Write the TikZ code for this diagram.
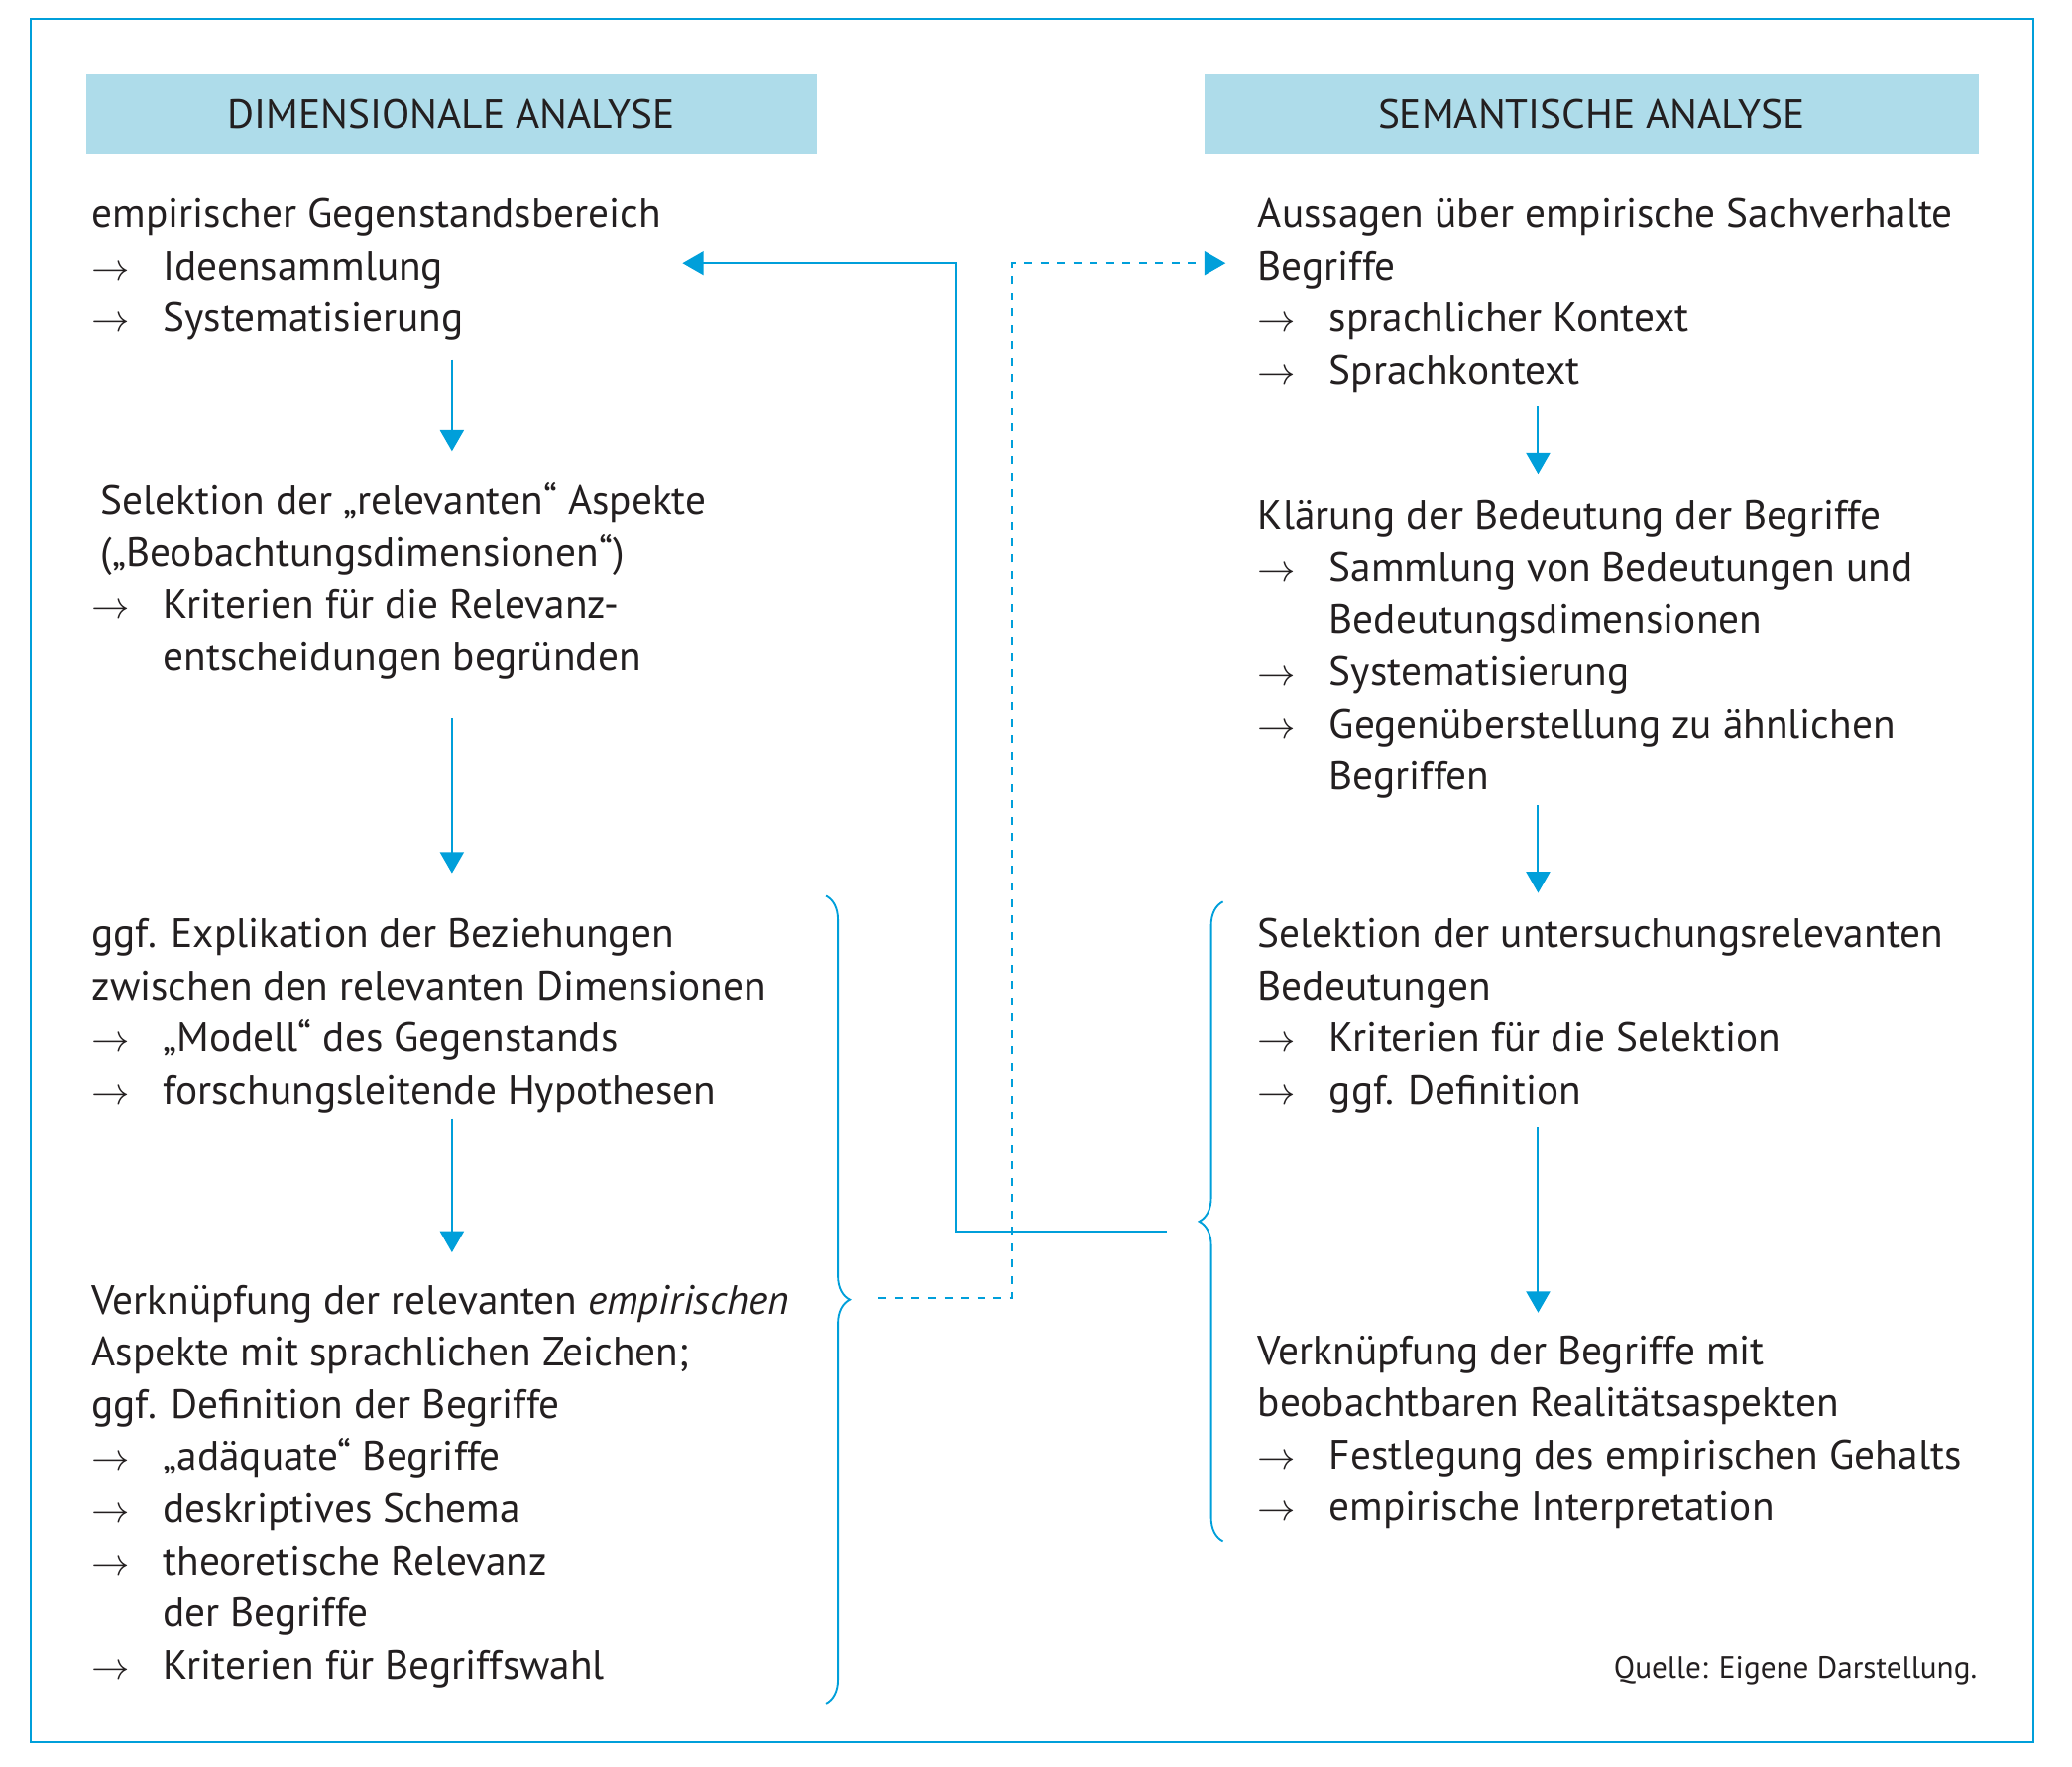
\documentclass[tikz,border=0pt]{standalone}
\usepackage{fontspec}
\setmainfont{PT Sans}
\usetikzlibrary{calc,arrows.meta,decorations.pathreplacing}
\definecolor{blau}{RGB}{0,159,218}
\definecolor{hellblau}{RGB}{174,220,234}
\definecolor{schrift}{RGB}{35,31,32}
\newcommand{\pf}[1]{\makebox[27pt][l]{$\rightarrow$}#1}
\newcommand{\ein}{\hspace*{27pt}}
\tikzstyle{kopf}=[fill=hellblau,minimum height=30pt,inner sep=0pt,text=schrift,font=\fontsize{15.5}{19.7}\selectfont]
\tikzstyle{feld}=[anchor=base west,align=left,inner sep=0pt,text=schrift,font=\fontsize{15.5}{19.7}\selectfont]
\tikzstyle{quelle}=[anchor=base east,inner sep=0pt,text=schrift,font=\fontsize{11.7}{13}\selectfont]
\tikzstyle{pfeil}=[draw=blau,line width=0.75pt,-{Triangle[length=8pt,width=9pt]}]
\tikzstyle{linie}=[draw=blau,line width=0.7pt]
\tikzstyle{strich}=[draw=blau,line width=0.7pt,dash pattern=on 3pt off 3.2pt]
\tikzstyle{klammer}=[draw=blau,line width=0.7pt,decorate,decoration={brace,amplitude=9pt}]

\begin{document}
\begin{tikzpicture}[x=0.5pt,y=-0.5pt]
	\useasboundingbox (0,0) rectangle (1567.5,1336.5);
	\draw[blau,line width=0.75pt] (23.3,14.5) rectangle (1538.5,1317.8);
	\node[kopf,minimum width=276.5pt] (dim) at (341.5,86.3) {DIMENSIONALE ANALYSE};
	\node[kopf,minimum width=292.8pt] (sem) at (1204,86.3) {SEMANTISCHE ANALYSE};

	\node[feld] (l1) at (69,251) {empirischer Gegenstandsbereich\\
		\pf{Ideensammlung}\\
		\pf{Systematisierung}};
	\node[feld] (l2) at (69,507.2) {\hspace*{3.4pt}Selektion der „relevanten“ Aspekte\\
		\hspace*{3.4pt}(„Beobachtungsdimensionen“)\\
		\pf{Kriterien für die Relevanz-}\\
		\ein entscheidungen begründen};
	\node[feld] (l3) at (69,835) {ggf. Explikation der Beziehungen\\
		zwischen den relevanten Dimensionen\\
		\pf{„Modell“ des Gegenstands}\\
		\pf{forschungsleitende Hypothesen}};
	\node[feld] (l4) at (69,1269.8) {Verknüpfung der relevanten \textit{empirischen}\\
		Aspekte mit sprachlichen Zeichen;\\
		ggf. Definition der Begriffe\\
		\pf{„adäquate“ Begriffe}\\
		\pf{deskriptives Schema}\\
		\pf{theoretische Relevanz}\\
		\ein der Begriffe\\
		\pf{Kriterien für Begriffswahl}};

	\node[feld] (r1) at (951.2,290.4) {Aussagen über empirische Sachverhalte\\
		Begriffe\\
		\pf{sprachlicher Kontext}\\
		\pf{Sprachkontext}};
	\node[feld] (r2) at (951.2,597.4) {Klärung der Bedeutung der Begriffe\\
		\pf{Sammlung von Bedeutungen und}\\
		\ein Bedeutungsdimensionen\\
		\pf{Systematisierung}\\
		\pf{Gegenüberstellung zu ähnlichen}\\
		\ein Begriffen};
	\node[feld] (r3) at (951.2,835) {Selektion der untersuchungsrelevanten\\
		Bedeutungen\\
		\pf{Kriterien für die Selektion}\\
		\pf{ggf. Definition}};
	\node[feld] (r4) at (951.2,1150.2) {Verknüpfung der Begriffe mit\\
		beobachtbaren Realitätsaspekten\\
		\pf{Festlegung des empirischen Gehalts}\\
		\pf{empirische Interpretation}};
	\node[quelle] (q) at (1496,1269.6) {Quelle: Eigene Darstellung.};

	\coordinate (sl) at (341.9,0);
	\coordinate (sr) at (1163.6,0);
	\draw[pfeil] ($(l1.base -| sl)+(0,21)$) -- ($(l2.base -| sl)+(0,-165.7)$);
	\draw[pfeil] ($(l2.base -| sl)+(0,35.8)$) -- ($(l3.base -| sl)+(0,-174.5)$);
	\draw[pfeil] ($(l3.base -| sl)+(0,10.7)$) -- ($(l4.base -| sl)+(0,-322.5)$);
	\draw[pfeil] ($(r1.base -| sr)+(0,16.6)$) -- ($(r2.base -| sr)+(0,-238.7)$);
	\draw[pfeil] ($(r2.base -| sr)+(0,11.6)$) -- ($(r3.base -| sr)+(0,-159.6)$);
	\draw[pfeil] ($(r3.base -| sr)+(0,17.8)$) -- ($(r4.base -| sr)+(0,-157.4)$);

	\draw[klammer] (624.8,677.6) -- (624.8,1288.4);
	\draw[klammer] (925.2,1165.8) -- (925.2,682);

	\coordinate (vonR) at (882.7,931.7);
	\coordinate (eckeR) at (723.3,198.9);
	\coordinate (zuL) at (516.3,198.9);
	\coordinate (vonL) at (664.8,981.7);
	\coordinate (eckeL) at (765.8,198.9);
	\coordinate (zuR) at (927.2,198.9);
	\draw[linie,-{Triangle[length=8pt,width=9pt]}] (vonR) -| (eckeR) -- (zuL);
	\draw[strich,-{Triangle[length=8pt,width=9pt]}] (vonL) -| (eckeL) -- (zuR);
\end{tikzpicture}
\end{document}
